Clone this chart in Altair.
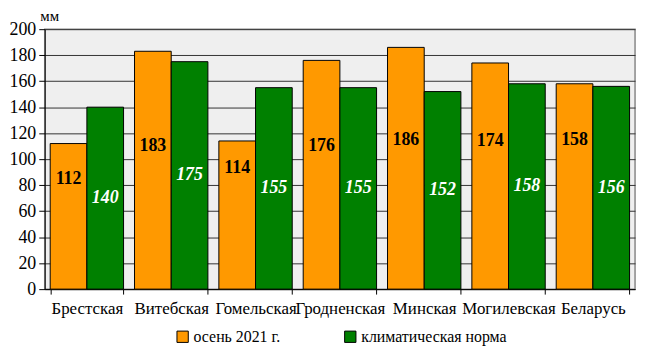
import altair as alt
import pandas as pd

regions = ["Брестская", "Витебская", "Гомельская", "Гродненская", "Минская", "Могилевская", "Беларусь"]
series = ["осень 2021 г.", "климатическая норма"]
autumn_2021 = [112, 183, 114, 176, 186, 174, 158]
norm = [140, 175, 155, 155, 152, 158, 156]
# label anchor heights (in mm units) as placed in the reference
autumn_label_at = [85, 110, 93, 110, 115, 114, 115]
norm_label_at = [70, 88, 78, 78, 76, 79, 78]
y_ticks = [0, 20, 40, 60, 80, 100, 120, 140, 160, 180, 200]

FONT = "Liberation Serif"

rows = []
for i, r in enumerate(regions):
    rows.append({"region": r, "series": series[0], "value": autumn_2021[i], "lab": autumn_label_at[i]})
    rows.append({"region": r, "series": series[1], "value": norm[i], "lab": norm_label_at[i]})
df = pd.DataFrame(rows)

xscale = alt.Scale(paddingInner=0.13, paddingOuter=0.065)
yscale = alt.Scale(domain=[0, 200])

x_axis = alt.Axis(labelAngle=0, labelFontSize=17, labelColor="black", labelPadding=7,
                  tickBand="extent", tickSize=5, tickColor="black", domainColor="black",
                  labelFont=FONT, labelOverlap=False, title=None)
y_axis = alt.Axis(values=y_ticks, title="мм", titleAngle=0,
                  titleAlign="left", titleBaseline="bottom", titleX=-5, titleY=-6,
                  titleFontSize=15,
                  titleFontWeight="normal", titleColor="black", titleFont=FONT,
                  labelFontSize=18, labelColor="black", labelFont=FONT,
                  labelOverlap=False, labelFlush=False,
                  tickSize=6, tickColor="black", domainColor="black",
                  grid=True, gridColor="#333333", gridWidth=1, labelPadding=3)

xo = alt.XOffset("series:N", sort=series)

bars = alt.Chart(df).mark_bar(stroke="black", strokeWidth=1).encode(
    x=alt.X("region:N", sort=regions, scale=xscale, axis=x_axis, title=None),
    xOffset=xo,
    y=alt.Y("value:Q", scale=yscale, axis=y_axis, title="мм"),
    color=alt.Color("series:N", sort=series,
                    scale=alt.Scale(domain=series, range=["#FF9900", "#008000"]),
                    legend=alt.Legend(title=None, orient="none", direction="horizontal",
                                      legendX=131, legendY=302, symbolType="square",
                                      symbolSize=130, symbolStrokeColor="black",
                                      symbolStrokeWidth=1, symbolOpacity=1,
                                      labelFontSize=16, labelColor="black",
                                      labelFont=FONT, columnPadding=62,
                                      labelOffset=3)),
)

lab_a = alt.Chart(df).transform_filter(alt.datum.series == series[0]).mark_text(
    fontWeight="bold", fontSize=18, color="black", font=FONT, baseline="middle"
).encode(x=alt.X("region:N", sort=regions, scale=xscale, axis=x_axis, title=None), xOffset=xo,
         y=alt.Y("lab:Q", scale=yscale, axis=y_axis, title="мм"), text="value:Q")

lab_n = alt.Chart(df).transform_filter(alt.datum.series == series[1]).mark_text(
    fontWeight="bold", fontStyle="italic", fontSize=18, color="white", font=FONT,
    baseline="middle"
).encode(x=alt.X("region:N", sort=regions, scale=xscale, axis=x_axis, title=None), xOffset=xo,
         y=alt.Y("lab:Q", scale=yscale, axis=y_axis, title="мм"), text="value:Q")

chart = alt.layer(bars, lab_a, lab_n).properties(
    width=595, height=262,
    autosize=alt.AutoSizeParams(type="none"),
    padding={"left": 37, "top": 20, "right": 6, "bottom": 60},
).configure(font=FONT).configure_view(
    fill="#efefef", stroke="#888888", strokeWidth=1.5
).configure_axis(labelFont=FONT, titleFont=FONT).configure_text(font=FONT).configure_legend(
    labelFont=FONT
)

chart.save("out.html", embed_options={"renderer": "svg", "actions": False})
